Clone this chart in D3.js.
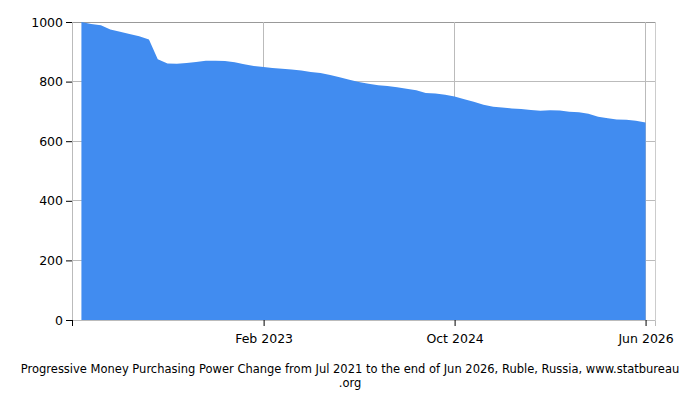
<!DOCTYPE html>
<html>
<head>
<meta charset="utf-8">
<script src="https://cdn.jsdelivr.net/npm/d3@7"></script>
<style>
  body { margin: 0; background: #fff; }
  text { font-family: "DejaVu Sans", sans-serif; fill: #000; }
</style>
</head>
<body>
<div id="chart"></div>
<script>
    // monthly values, Jul 2021 .. Jun 2026
    const startYear = 2021, startMonth = 6;
    const values = [
        1000, 993, 989, 975, 967, 960, 952, 941, 875, 861,
        860, 862, 866, 870, 870, 869, 865, 858, 852, 849,
        846, 843, 841, 837, 832, 829, 822, 815, 806, 799,
        793, 788, 785, 781, 776, 771, 762, 760, 756, 750,
        741, 732, 722, 716, 713, 710, 708, 705, 702, 704,
        703, 699, 697, 692, 682, 677, 673, 672, 669, 663
    ];
    const yTicks = [0, 200, 400, 600, 800, 1000];
    const xTickDates = [[2021, 5], [2023, 1], [2024, 9], [2026, 5]];
    const xTickLabels = ["", "Feb 2023", "Oct 2024", "Jun 2026"];
    const titleLines = [
        "Progressive Money Purchasing Power Change from Jul 2021 to the end of Jun 2026, Ruble, Russia, www.statbureau",
        ".org"
    ];

    const data = values.map((v, i) => ({date: new Date(Date.UTC(startYear, startMonth + i, 1)), value: v}));

    const width = 700, height = 400;
    const margin = {top: 22, right: 45, bottom: 80, left: 72};

    const svg = d3.select("#chart")
        .append("svg")
        .attr("width", width)
        .attr("height", height);

    const x = d3.scaleUtc()
        .domain([new Date(Date.UTC(2021, 5, 1)), new Date(Date.UTC(2026, 6, 1))])
        .range([margin.left, width - margin.right]);

    const y = d3.scaleLinear()
        .domain([0, 1000])
        .range([height - margin.bottom, margin.top]);

    const tickDates = xTickDates.map(d => new Date(Date.UTC(d[0], d[1], 1)));

    // grid
    svg.append("g")
        .selectAll("line")
        .data(yTicks)
        .join("line")
        .attr("x1", margin.left).attr("x2", width - margin.right)
        .attr("y1", d => y(d)).attr("y2", d => y(d))
        .attr("stroke", d => d === 1000 ? "#999" : "#bbb")
        .attr("shape-rendering", "crispEdges");

    svg.append("g")
        .selectAll("line")
        .data(tickDates.slice(1))
        .join("line")
        .attr("x1", d => x(d)).attr("x2", d => x(d))
        .attr("y1", margin.top).attr("y2", height - margin.bottom)
        .attr("stroke", "#bbb")
        .attr("shape-rendering", "crispEdges");

    svg.append("line")
        .attr("x1", width - margin.right).attr("x2", width - margin.right)
        .attr("y1", margin.top).attr("y2", height - margin.bottom)
        .attr("stroke", "#ccc")
        .attr("shape-rendering", "crispEdges");

    // area
    const area = d3.area()
        .x(d => x(d.date))
        .y0(y(0))
        .y1(d => y(d.value));

    svg.append("path")
        .datum(data)
        .attr("fill", "#418cf0")
        .attr("d", area);

    // axes
    const yAxis = svg.append("g")
        .attr("transform", "translate(" + margin.left + ",0)")
        .call(d3.axisLeft(y).tickValues(yTicks).tickFormat(d3.format("d")).tickSize(6).tickPadding(3));
    yAxis.select(".domain").attr("stroke", "#bbb");
    yAxis.selectAll("text").attr("font-size", 12.5).attr("font-family", "DejaVu Sans");

    const xAxis = svg.append("g")
        .attr("transform", "translate(0," + y(0) + ")")
        .call(d3.axisBottom(x).tickValues(tickDates).tickSize(6).tickPadding(8)
            .tickFormat((d, i) => xTickLabels[i]));
    xAxis.select(".domain").attr("stroke", "#bbb");
    xAxis.selectAll("text").attr("font-size", 12.5).attr("font-family", "DejaVu Sans");

    // title
    svg.append("g")
        .selectAll("text")
        .data(titleLines)
        .join("text")
        .attr("x", width / 2)
        .attr("y", (d, i) => 373 + i * 14)
        .attr("text-anchor", "middle")
        .attr("font-size", 11.5)
        .text(d => d);
</script>
</body>
</html>
